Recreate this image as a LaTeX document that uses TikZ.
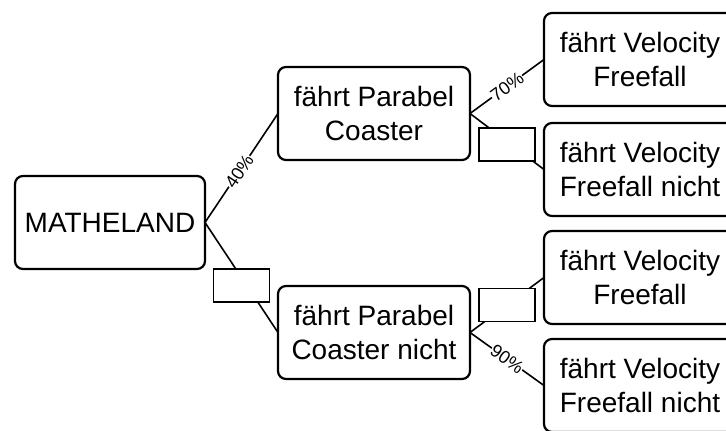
\documentclass[tikz,border=0pt]{standalone}
\usepackage{fontspec}
\setmainfont{Liberation Sans}
\usetikzlibrary{positioning}

\begin{document}
\begin{tikzpicture}[x=1pt, y=-1pt,
    block/.style={rectangle, draw, line width=2.2pt, rounded corners=8pt, align=center, minimum width=190pt, minimum height=93pt, inner sep=0pt, outer sep=0pt, font=\fontsize{28}{34}\selectfont},
    line/.style={draw, line width=1.6pt},
    prob/.style={sloped, fill=white, inner sep=0.5pt, font=\fontsize{18}{18}\selectfont},
    blank/.style={rectangle, draw, fill=white, line width=1.3pt, minimum width=56pt, minimum height=33pt, inner sep=0pt}
]
\useasboundingbox (0,0) rectangle (726,431);
\clip (0,0) rectangle (726,431);

\node [block] (land) at (110,222.5) {MATHELAND};
\node [block, minimum width=192pt] (pc) at (374,113.5) {fährt Parabel\\Coaster};
\node [block, minimum width=192pt] (pcn) at (374,332.5) {fährt Parabel\\Coaster nicht};
\node [block, minimum width=192pt] (vf1) at (640,59.5) {fährt Velocity\\Freefall};
\node [block, minimum width=192pt] (vfn1) at (640,169.5) {fährt Velocity\\Freefall nicht};
\node [block, minimum width=192pt] (vf2) at (640,277.5) {fährt Velocity\\Freefall};
\node [block, minimum width=192pt] (vfn2) at (640,385.5) {fährt Velocity\\Freefall nicht};

\path [line] (land.east) -- node[prob, pos=0.47] {40\%} (pc.west);
\path [line] (land.east) -- node[blank, yshift=-8pt] (b1) {} (pcn.west);
\path [line] (pc.east) -- node[prob] {70\%} (vf1.west);
\path [line] (pc.east) -- node[blank, yshift=-3pt] (b2) {} (vfn1.west);
\path [line] (pcn.east) -- node[blank] (b3) {} (vf2.west);
\path [line] (pcn.east) -- node[prob] {90\%} (vfn2.west);

\end{tikzpicture}
\end{document}
